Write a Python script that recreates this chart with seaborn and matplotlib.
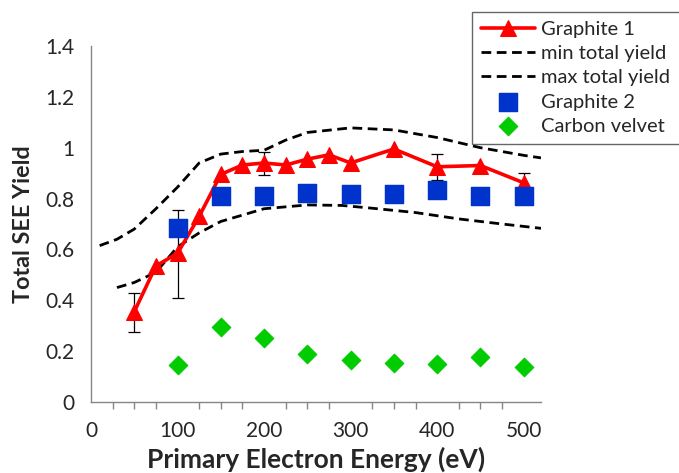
import matplotlib
matplotlib.use('Agg')
import matplotlib.pyplot as plt
import pandas as pd
import seaborn as sns

# Graphite 1 (red line with triangles)
g1_energy = [50, 75, 100, 125, 150, 175, 200, 225, 250, 275, 300, 350, 400, 450, 500]
g1_yield = [0.355, 0.535, 0.585, 0.73, 0.895, 0.932, 0.94, 0.932, 0.955, 0.972, 0.94, 0.995, 0.925, 0.93, 0.862]

# error bars on some Graphite 1 points
err_energy = [50, 100, 200, 400, 500]
err_value = [0.355, 0.585, 0.94, 0.925, 0.862]
err_low = [0.275, 0.41, 0.893, 0.873, 0.82]
err_high = [0.427, 0.755, 0.983, 0.974, 0.902]

# Graphite 2 (blue squares)
g2_energy = [100, 150, 200, 250, 300, 350, 400, 450, 500]
g2_yield = [0.683, 0.812, 0.81, 0.821, 0.817, 0.817, 0.832, 0.81, 0.812]

# Carbon velvet (green diamonds)
cv_energy = [100, 150, 200, 250, 300, 350, 400, 450, 500]
cv_yield = [0.147, 0.294, 0.25, 0.188, 0.164, 0.153, 0.148, 0.177, 0.138]

# min / max total yield curves
min_energy = [30, 50, 75, 100, 125, 150, 175, 200, 250, 290, 325, 375, 425, 475, 520]
min_yield = [0.45, 0.47, 0.51, 0.61, 0.665, 0.71, 0.735, 0.76, 0.775, 0.773, 0.762, 0.745, 0.72, 0.70, 0.683]
max_energy = [10, 30, 50, 75, 100, 125, 150, 175, 200, 225, 250, 300, 350, 400, 450, 500, 520]
max_yield = [0.615, 0.64, 0.68, 0.76, 0.845, 0.94, 0.975, 0.985, 0.99, 1.03, 1.06, 1.078, 1.07, 1.04, 1.0, 0.97, 0.96]

sns.set_style('white')
plt.rcParams['font.family'] = ['Lato', 'DejaVu Sans']

fig = plt.figure(figsize=(6.79, 4.73), dpi=100)
ax = fig.add_axes([91 / 679, 71 / 473, 450 / 679, 356 / 473])

lo = [v - l for v, l in zip(err_value, err_low)]
hi = [h - v for v, h in zip(err_value, err_high)]
ax.errorbar(err_energy, err_value, yerr=[lo, hi], fmt='none', ecolor='black',
            elinewidth=0.9, capsize=4, capthick=0.9, zorder=2)

sns.lineplot(x=g1_energy, y=g1_yield, ax=ax, color='#ff0000', lw=2.6, marker='^',
             markersize=11, markeredgecolor='#ff0000', label='Graphite 1', zorder=3)
sns.lineplot(x=min_energy, y=min_yield, ax=ax, color='black', lw=2, linestyle=(0, (3.5, 2)),
             label='min total yield', zorder=2)
sns.lineplot(x=max_energy, y=max_yield, ax=ax, color='black', lw=2, linestyle=(0, (3.5, 2)),
             label='max total yield', zorder=2)
sns.scatterplot(x=g2_energy, y=g2_yield, ax=ax, color='#0033cc', marker='s', s=170,
                edgecolor='#0033cc', label='Graphite 2', zorder=4)
sns.scatterplot(x=cv_energy, y=cv_yield, ax=ax, color='#00cc00', marker='D', s=90,
                edgecolor='#00cc00', label='Carbon velvet', zorder=4)

ax.set_xlim(0, 520)
ax.set_ylim(0, 1.4)
ax.set_xticks(range(0, 501, 100))
ax.set_xticks(range(0, 501, 25), minor=True)
ax.set_yticks([0, 0.2, 0.4, 0.6, 0.8, 1.0, 1.2, 1.4])
ax.set_yticklabels(['0', '0.2', '0.4', '0.6', '0.8', '1', '1.2', '1.4'])

for s in ['top', 'right']:
    ax.spines[s].set_visible(False)
for s in ['left', 'bottom']:
    ax.spines[s].set_color('#868686')
    ax.spines[s].set_linewidth(1)

ax.tick_params(axis='both', which='both', direction='out', color='#868686', labelsize=15)
ax.tick_params(axis='both', which='major', length=5, width=1, pad=7)
ax.tick_params(axis='x', which='minor', length=5, width=1, bottom=True)
ax.tick_params(axis='x', which='major', pad=9)

ax.set_xlabel('Primary Electron Energy (eV)', fontsize=19, fontweight='bold', labelpad=4)
ax.set_ylabel('Total SEE Yield', fontsize=16.8, fontweight='bold', labelpad=8)

leg = ax.legend(loc='upper left', bbox_to_anchor=(472 / 679, 1 - 12 / 473),
                bbox_transform=fig.transFigure, fontsize=14.5, frameon=True, fancybox=False,
                handlelength=2.7, handletextpad=0.3, labelspacing=0.35, borderpad=0.45,
                borderaxespad=0)
leg.get_frame().set_edgecolor('#404040')
leg.get_frame().set_linewidth(1)

fig.savefig('out.png', dpi=100)
